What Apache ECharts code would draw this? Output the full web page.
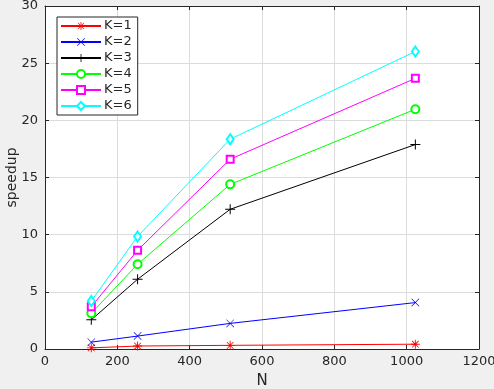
<!DOCTYPE html>
<html>
<head>
<meta charset="utf-8">
<script src="https://cdn.jsdelivr.net/npm/echarts@6/dist/echarts.min.js"></script>
<style>
  html, body { margin: 0; padding: 0; background: #f0f0f0; }
  #main { width: 494px; height: 389px; }
</style>
</head>
<body>
<div id="main"></div>
<script>
// speedup vs N for K = 1..6
var nValues = [128, 256, 512, 1024];
var k1 = [0.1, 0.26, 0.32, 0.42];
var k2 = [0.6, 1.13, 2.24, 4.06];
var k3 = [2.55, 6.1, 12.22, 17.88];
var k4 = [3.12, 7.41, 14.4, 20.97];
var k5 = [3.7, 8.63, 16.6, 23.67];
var k6 = [4.2, 9.84, 18.35, 26.02];
var seriesNames = ['K=1', 'K=2', 'K=3', 'K=4', 'K=5', 'K=6'];
var xTicks = [0, 200, 400, 600, 800, 1000, 1200];
var yTicks = [0, 5, 10, 15, 20, 25, 30];

var colors = ['#ff0000', '#0000ff', '#000000', '#00ff00', '#ff00ff', '#00ffff'];
var plusPath = 'path://M0,4.5H10V5.5H0Z M4.5,0H5.5V10H4.5Z';
var xPath = 'path://M0,0.6L0.6,0L10,9.4L9.4,10Z M9.4,0L10,0.6L0.6,10L0,9.4Z';
var starPath = 'path://M0,4.5H10V5.5H0Z M4.5,0H5.5V10H4.5Z M1,1.6L1.6,1L9,8.4L8.4,9Z M8.4,1L9,1.6L1.6,9L1,8.4Z';
var symbols = [starPath, xPath, plusPath, 'emptyCircle', 'emptyRect', 'emptyDiamond'];
var sizes = [9, 8, 10, 8, 7, [7, 10]];
var borders = [0, 0, 0, 1, 1, 1];
var allData = [k1, k2, k3, k4, k5, k6];

function pairs(arr) {
    var out = [];
    for (var i = 0; i < arr.length; i++) {
        out.push([nValues[i], arr[i]]);
    }
    return out;
}

var series = [];
for (var s = 0; s < allData.length; s++) {
    series.push({
        name: seriesNames[s],
        type: 'line',
        data: pairs(allData[s]),
        symbol: symbols[s],
        symbolSize: sizes[s],
        showAllSymbol: true,
        animation: false,
        lineStyle: { color: colors[s], width: 1 },
        itemStyle: { color: colors[s], borderColor: colors[s], borderWidth: borders[s] }
    });
}

var axisCol = '#262626';
var chart = echarts.init(document.getElementById('main'));
chart.setOption({
    backgroundColor: '#f0f0f0',
    color: colors,
    textStyle: { fontFamily: 'DejaVu Sans' },
    grid: {
        left: 45, right: 15, top: 6, bottom: 40,
        outerBoundsMode: 'none', containLabel: false,
        show: true, backgroundColor: '#ffffff', borderWidth: 0
    },
    legend: {
        orient: 'vertical',
        left: 57, top: 17,
        itemWidth: 40, itemHeight: 10, itemGap: 2,
        padding: [2, 6, 2, 3],
        backgroundColor: '#ffffff',
        borderColor: axisCol, borderWidth: 1,
        textStyle: { color: axisCol, fontSize: 13, lineHeight: 14, padding: [0, 0, 0, -2] },
        data: seriesNames
    },
    xAxis: [{
        type: 'value', min: 0, max: 1200, interval: 200,
        name: 'N', nameLocation: 'middle', nameGap: 25, nameMoveOverlap: false,
        nameTextStyle: { color: axisCol, fontSize: 15 },
        axisLine: { show: true, onZero: false, lineStyle: { color: axisCol } },
        axisTick: { show: true, inside: true, length: 4, lineStyle: { color: axisCol } },
        axisLabel: { color: axisCol, fontSize: 13, margin: 6,
            formatter: function (v) { return xTicks.indexOf(v) >= 0 ? String(v) : ''; } },
        splitLine: { show: true, lineStyle: { color: '#dcdcdc' } }
    }, {
        type: 'value', min: 0, max: 1200, interval: 200, position: 'top',
        axisLine: { show: true, onZero: false, lineStyle: { color: axisCol } },
        axisTick: { show: true, inside: true, length: 4, lineStyle: { color: axisCol } },
        axisLabel: { show: false }, splitLine: { show: false }
    }],
    yAxis: [{
        type: 'value', min: 0, max: 30, interval: 5,
        name: 'speedup', nameLocation: 'middle', nameGap: 26, nameMoveOverlap: false,
        nameTextStyle: { color: axisCol, fontSize: 14 },
        axisLine: { show: true, onZero: false, lineStyle: { color: axisCol } },
        axisTick: { show: true, inside: true, length: 4, lineStyle: { color: axisCol } },
        axisLabel: { color: axisCol, fontSize: 13, margin: 7,
            formatter: function (v) { return yTicks.indexOf(v) >= 0 ? String(v) : ''; } },
        splitLine: { show: true, lineStyle: { color: '#dcdcdc' } }
    }, {
        type: 'value', min: 0, max: 30, interval: 5, position: 'right',
        axisLine: { show: true, onZero: false, lineStyle: { color: axisCol } },
        axisTick: { show: true, inside: true, length: 4, lineStyle: { color: axisCol } },
        axisLabel: { show: false }, splitLine: { show: false }
    }],
    series: series
});
</script>
</body>
</html>
